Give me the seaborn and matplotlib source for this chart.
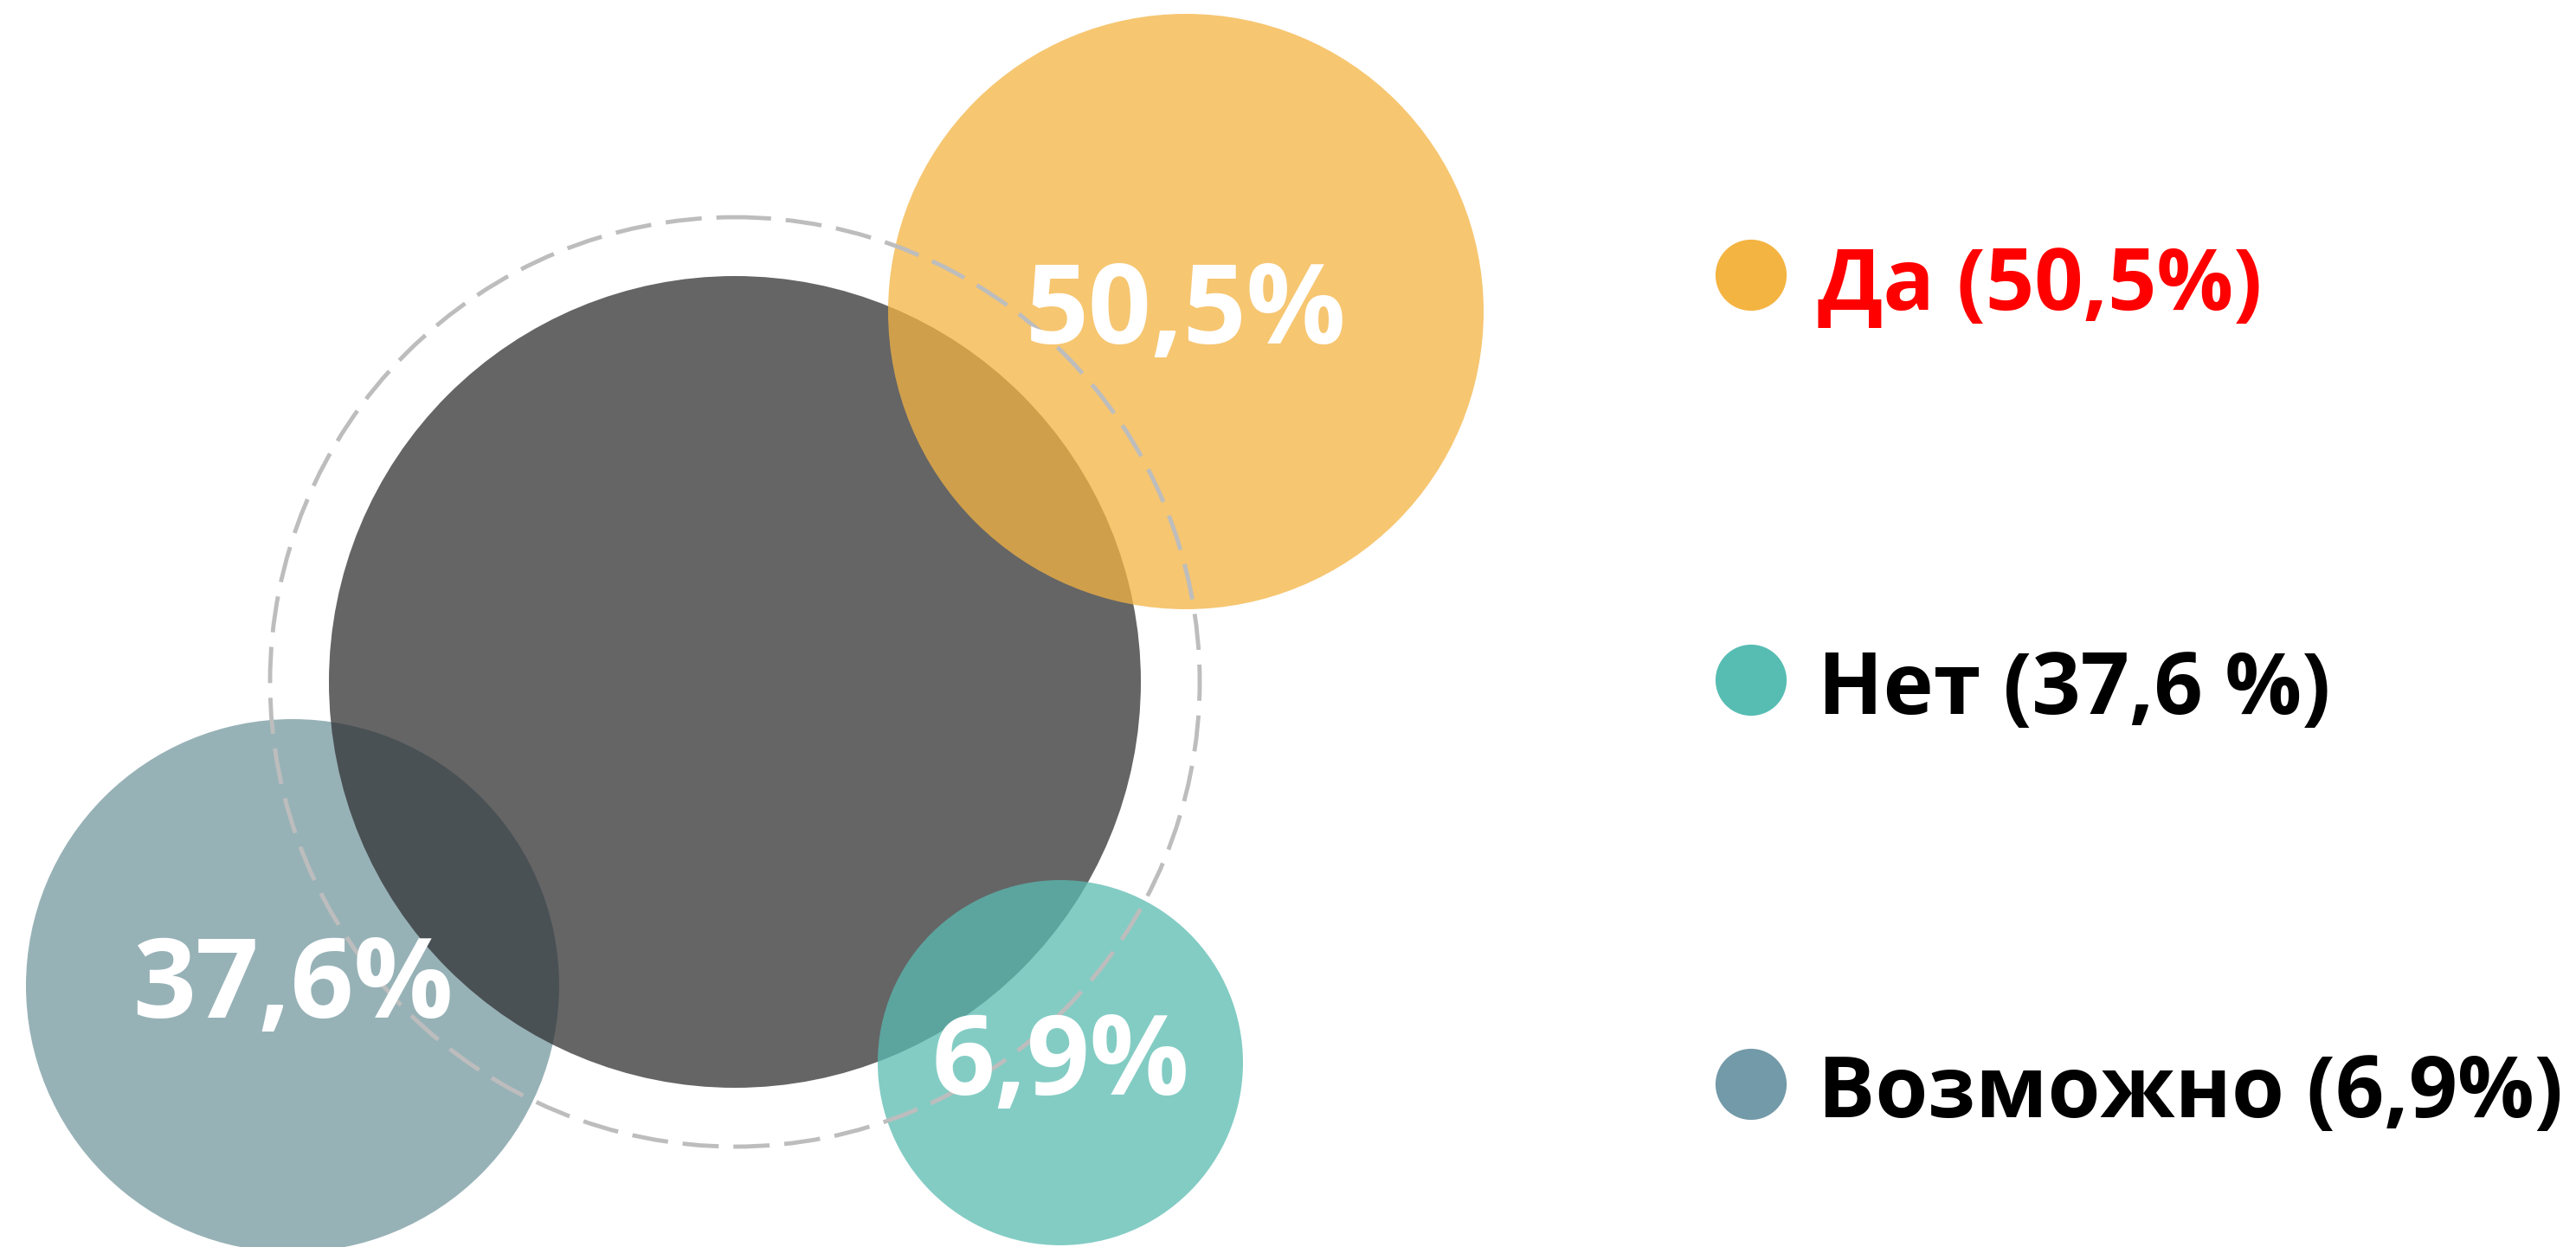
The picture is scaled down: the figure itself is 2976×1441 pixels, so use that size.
import os
import matplotlib
matplotlib.use("Agg")
import matplotlib.pyplot as plt
from matplotlib import font_manager as fm
from matplotlib.patches import Circle
import seaborn as sns
import pandas as pd

# data
categories = ["Да", "Нет", "Возможно"]
legend_values = ["50,5%", "37,6 %", "6,9%"]
legend_colors = ["#F4B441", "#57BDB3", "#739AA8"]
legend_text_colors = ["#FF0000", "#000000", "#000000"]

bubble_labels = ["50,5%", "37,6%", "6,9%"]
bubble_colors = ["#F4B442", "#75989F", "#59BBB1"]

# layout (pixel coords, y down)
W, H = 2976, 1441
center_xy, center_r = (849, 788), 469
ring_r = 537
bubble_xy = [(1370, 360), (338, 1139), (1225, 1228)]
bubble_r = [344, 308, 211]
legend_x, legend_y = 2023, [318, 786, 1253]
legend_text_x, legend_base = 2100, [358, 825, 1291]

sns.set_theme(style="white")
plt.rcParams["font.family"] = ["Open Sans", "DejaVu Sans"]

# static bold file, has Cyrillic
bold_file = "/usr/share/fonts/truetype/open-sans/OpenSans-Bold.ttf"


def fp(size):
    if os.path.exists(bold_file):
        return fm.FontProperties(fname=bold_file, size=size)
    return fm.FontProperties(family=["Open Sans", "DejaVu Sans"], weight="bold", size=size)


fig = plt.figure(figsize=(W / 100, H / 100), dpi=100)
ax = fig.add_axes([0, 0, 1, 1])

# bottom bubble (blue) under the dark circle, others on top
ax.add_patch(Circle(bubble_xy[1], bubble_r[1], color=bubble_colors[1], alpha=0.75, lw=0, zorder=1))
ax.add_patch(Circle(center_xy, center_r, color="#313133", alpha=0.75, lw=0, zorder=2))
ax.add_patch(Circle(bubble_xy[0], bubble_r[0], color=bubble_colors[0], alpha=0.75, lw=0, zorder=3))
ax.add_patch(Circle(bubble_xy[2], bubble_r[2], color=bubble_colors[2], alpha=0.75, lw=0, zorder=3))

ring = Circle(center_xy, ring_r, fill=False, edgecolor="#BDBDBD", lw=3.5,
              linestyle=(0, (8.6, 3.5)), zorder=4)
ring.set_capstyle("butt")
ax.add_patch(ring)

for (x, y), lab in zip(bubble_xy, bubble_labels):
    ax.text(x, y + 4, lab, color="white", fontproperties=fp(92),
            ha="center", va="center", zorder=5)

# legend markers
leg = pd.DataFrame({"x": [legend_x] * 3, "y": legend_y, "cat": categories})
sns.scatterplot(data=leg, x="x", y="y", hue="cat", palette=legend_colors,
                s=3500, linewidth=0, legend=False, ax=ax, zorder=5)
ax.set_xlim(0, W)
ax.set_ylim(H, 0)
ax.axis("off")

for cat, val, yb, tc in zip(categories, legend_values, legend_base, legend_text_colors):
    ax.text(legend_text_x, yb, f"{cat} ({val})", color=tc, fontproperties=fp(71),
            ha="left", va="baseline")

fig.savefig("out.png", dpi=100)
